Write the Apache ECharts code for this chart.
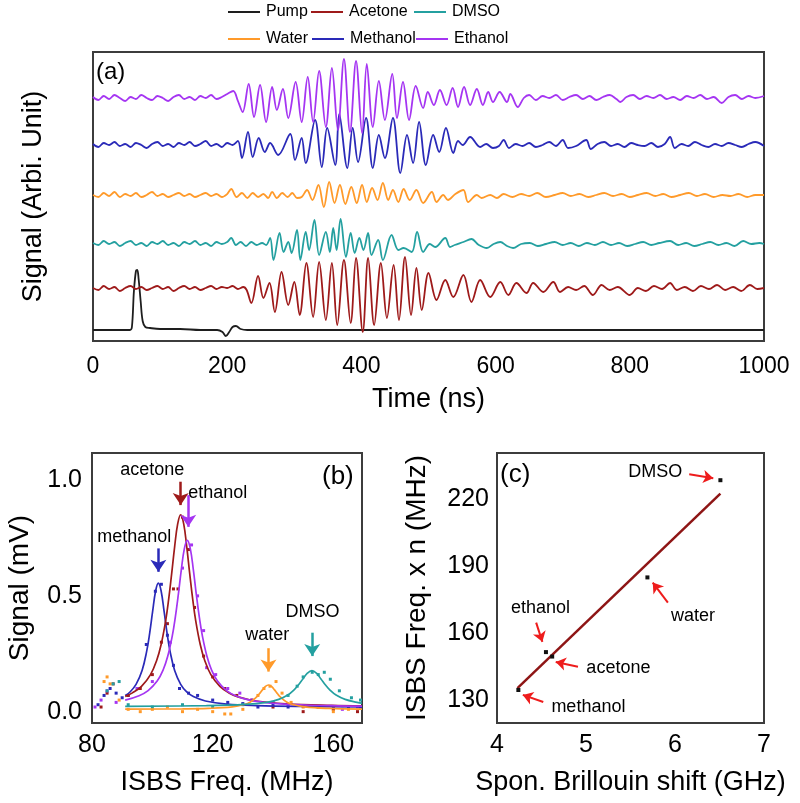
<!DOCTYPE html>
<html><head><meta charset="utf-8">
<script src="https://cdn.jsdelivr.net/npm/echarts@6/dist/echarts.min.js"></script>
<style>html,body{margin:0;padding:0;background:#fff}#c{width:800px;height:803px}</style>
</head><body><div id="c"></div><script>
// ---------- Panel (a): time traces (time ns, arbitrary offset signal) ----------
const timeTicks = [0, 200, 400, 600, 800, 1000];
const pumpTrace = [[0,11],[20,11],[40,11],[55,11],[58,14],[61,50],[64,70],[66,71],[68,62],[71,40],[74,20],[78,14],[85,13],[100,12],[130,12],[160,11],[185,11],[193,9],[198,5],[203,9],[208,14],[213,15],[220,12],[230,11],[300,11],[400,11],[500,11],[600,11],[700,11],[800,11],[900,11],[1000,11]];
const acetoneTrace = [[0,53],[8,51],[16,55],[24,52],[32,54],[40,50],[48,53],[56,55],[64,52],[72,54],[80,51],[88,53],[96,55],[104,52],[112,54],[120,50],[128,53],[136,55],[144,52],[152,54],[160,51],[168,53],[176,55],[184,52],[192,54],[200,53],[208,55],[216,52],[224,54],[229,51],[236,38],[246,65],[254,43],[263,58],[271,29],[281,69],[291,36],[300,59],[308,26],[318,78],[328,24],[337,79],[347,21],[356,78],[364,16],[374,81],[384,18],[392,83],[402,9],[410,83],[419,16],[429,78],[438,23],[448,76],[456,21],[465,84],[474,26],[482,73],[490,31],[500,68],[512,41],[525,61],[537,44],[552,66],[564,39],[577,61],[592,44],[607,59],[619,46],[631,58],[646,48],[656,58],[671,49],[686,59],[696,49],[708,54],[720,51],[732,55],[745,46],[758,56],[770,51],[782,54],[800,46],[812,53],[824,50],[836,55],[848,52],[860,58],[870,51],[882,54],[894,50],[906,55],[918,52],[930,56],[942,51],[954,54],[966,50],[979,56],[990,52],[1000,53]];
const dmsoTrace = [[0,98],[8,96],[16,100],[24,97],[32,99],[40,95],[48,98],[56,100],[64,96],[72,98],[80,95],[88,99],[96,97],[104,100],[112,96],[120,98],[128,95],[136,99],[144,97],[152,100],[160,96],[168,98],[176,95],[184,99],[192,97],[200,99],[206,103],[213,96],[220,99],[228,95],[236,99],[244,96],[252,98],[258,96],[264,103],[269,81],[278,108],[284,89],[291,99],[296,88],[304,111],[309,81],[317,109],[322,91],[330,121],[337,86],[347,109],[353,89],[358,113],[363,91],[369,122],[377,84],[384,108],[390,88],[397,103],[403,91],[410,108],[415,86],[425,101],[432,81],[445,106],[455,91],[463,93],[475,89],[483,109],[492,89],[502,97],[510,94],[525,103],[532,94],[539,96],[552,99],[564,102],[575,96],[587,93],[597,97],[607,99],[617,95],[626,93],[638,97],[651,98],[663,95],[675,97],[688,99],[700,96],[712,98],[724,95],[736,98],[748,96],[760,99],[772,96],[784,98],[796,95],[808,97],[820,99],[832,96],[844,98],[860,100],[872,96],[884,98],[896,95],[908,97],[920,99],[932,96],[944,98],[956,95],[969,100],[981,97],[993,98],[1000,97]];
const waterTrace = [[0,146],[8,144],[16,148],[24,145],[32,149],[40,144],[48,147],[56,145],[64,148],[72,144],[80,146],[88,149],[96,145],[104,147],[112,144],[120,146],[128,148],[136,145],[144,147],[152,144],[160,146],[168,148],[176,145],[184,147],[192,144],[200,147],[206,152],[214,144],[222,148],[230,143],[238,148],[246,144],[254,147],[261,143],[267,149],[274,143],[282,148],[290,144],[297,148],[304,143],[311,144],[319,151],[327,141],[336,156],[344,134],[352,159],[360,138],[368,156],[376,137],[385,154],[393,138],[401,156],[408,139],[416,153],[424,141],[432,158],[440,141],[447,151],[455,139],[463,152],[472,141],[482,151],[492,138],[505,149],[512,139],[522,146],[529,141],[540,147],[552,151],[559,139],[572,146],[579,143],[592,146],[602,143],[612,147],[625,144],[638,147],[650,145],[662,148],[675,144],[688,146],[700,148],[712,145],[725,147],[738,144],[750,146],[762,148],[775,145],[788,147],[800,144],[812,146],[825,148],[838,145],[850,147],[862,144],[875,146],[888,148],[900,145],[912,147],[925,144],[938,146],[950,145],[962,147],[975,144],[987,146],[1000,146]];
const methanolTrace = [[0,197],[8,194],[16,198],[24,196],[32,199],[40,195],[48,197],[56,194],[64,198],[72,196],[80,193],[88,197],[96,199],[104,195],[112,197],[120,194],[128,198],[136,196],[144,199],[152,195],[160,197],[168,200],[176,195],[184,197],[192,194],[200,198],[208,196],[216,200],[222,183],[231,209],[238,184],[247,203],[256,189],[264,198],[276,186],[294,207],[301,181],[311,203],[317,178],[331,221],[341,174],[349,213],[361,176],[367,227],[379,173],[387,213],[395,179],[407,223],[417,173],[426,206],[435,183],[447,223],[458,168],[468,206],[477,178],[486,219],[496,176],[507,206],[516,189],[526,213],[537,188],[544,200],[551,196],[562,204],[577,194],[586,197],[596,193],[605,195],[612,201],[620,193],[630,197],[640,195],[650,198],[660,194],[670,196],[680,199],[690,195],[700,201],[708,193],[720,195],[735,201],[742,192],[752,197],[762,199],[772,195],[782,197],[792,194],[802,198],[812,196],[822,195],[832,198],[842,194],[852,197],[860,204],[867,193],[877,197],[887,195],[897,199],[907,196],[917,194],[927,197],[937,195],[947,198],[957,196],[967,194],[977,197],[987,199],[1000,195]];
const ethanolTrace = [[0,244],[8,241],[16,245],[24,242],[32,246],[40,243],[48,240],[56,244],[64,242],[72,246],[80,243],[88,241],[96,245],[104,243],[112,240],[120,244],[128,246],[136,242],[144,244],[152,241],[160,245],[168,243],[176,246],[184,242],[192,244],[200,247],[209,250],[216,240],[223,229],[232,257],[240,224],[249,256],[258,219],[267,254],[274,231],[283,252],[291,223],[302,259],[311,219],[320,264],[328,219],[337,270],[347,214],[356,273],[365,211],[374,282],[383,209],[392,280],[401,208],[408,277],[417,214],[426,260],[435,221],[446,267],[453,223],[462,259],[471,221],[481,255],[492,233],[499,249],[508,236],[517,251],[527,236],[536,253],[544,234],[553,254],[562,236],[572,252],[581,236],[589,249],[596,239],[606,249],[617,239],[622,247],[633,234],[642,243],[650,246],[660,241],[670,245],[680,243],[690,246],[700,241],[710,244],[720,246],[730,242],[740,245],[750,241],[760,244],[770,246],[780,242],[786,239],[795,244],[805,246],[815,242],[825,245],[835,243],[845,246],[855,242],[865,244],[875,241],[885,245],[895,243],[905,246],[915,242],[925,244],[937,238],[947,244],[957,246],[967,242],[977,245],[987,243],[1000,245]];

// ---------- Panel (b): ISBS spectra (MHz, mV) ----------
const freqTicks = [80, 120, 160];
const signalTicks = [0, 0.5, 1.0];
const methanolFit = [[91,0.07],[92.6,0.085],[94.6,0.118],[96.6,0.178],[98.1,0.259],[99.1,0.337],[100.1,0.433],[101.1,0.522],[102,0.555],[102.9,0.522],[103.9,0.433],[104.9,0.337],[105.9,0.259],[107.4,0.178],[109.4,0.118],[111.4,0.085],[113.6,0.065],[117.6,0.046],[124.6,0.0325],[134.6,0.026],[149.6,0.0225],[169.5,0.021]];
const acetoneFit = [[91,0.066],[93.4,0.081],[96.4,0.109],[99.4,0.16],[101.4,0.22],[102.9,0.289],[104.4,0.391],[105.4,0.484],[106.4,0.595],[107.4,0.713],[108.4,0.811],[109.4,0.85],[110.4,0.811],[111.4,0.713],[112.4,0.595],[113.4,0.484],[114.4,0.391],[115.9,0.289],[117.4,0.22],[119.4,0.16],[122.4,0.109],[125.4,0.081],[128.4,0.064],[134.4,0.046],[144.4,0.034],[159.4,0.027],[169.5,0.025]];
const ethanolFit = [[91,0.05],[95.6,0.069],[98.6,0.091],[101.6,0.132],[103.6,0.181],[105.1,0.239],[106.6,0.326],[107.6,0.406],[108.6,0.504],[109.6,0.612],[110.6,0.703],[111.6,0.74],[112.6,0.703],[113.6,0.612],[114.6,0.504],[115.6,0.406],[116.6,0.326],[118.1,0.239],[119.6,0.181],[121.6,0.132],[124.6,0.091],[127.6,0.069],[131.6,0.052],[137.6,0.039],[146.6,0.031],[161.6,0.025],[169.5,0.024]];
const waterFit = [[91,0.011],[110,0.012],[118.5,0.014],[126.5,0.0205],[130.5,0.031],[132.5,0.042],[134.5,0.0625],[135.5,0.077],[136.5,0.094],[137.5,0.109],[138.5,0.115],[139.5,0.109],[140.5,0.094],[141.5,0.077],[142.5,0.0625],[144.5,0.042],[146.5,0.031],[150.5,0.0205],[158.5,0.014],[169.5,0.011]];
const dmsoFit = [[91,0.023],[117.9,0.0257],[130.9,0.0311],[137.9,0.0404],[141.9,0.053],[144.9,0.0717],[146.9,0.093],[148.4,0.115],[149.9,0.141],[151.4,0.166],[152.9,0.177],[154.4,0.166],[155.9,0.141],[157.4,0.115],[158.9,0.093],[160.9,0.0717],[163.9,0.053],[167.9,0.0404],[169.5,0.037]];
const methanolDots = [[82,0.03],[84,0.07],[86,0.1],[88,0.08],[90,0.06],[92,0.07],[95,0.1],[98,0.29],[101,0.52],[103,0.55],[105,0.33],[107,0.2],[109,0.1],[112,0.08],[115,0.07],[120,0.05],[125,0.04],[130,0.035],[135,0.02],[140,0.03],[145,0.02],[150,0.025],[155,0.02],[160,0.015],[165,0.02],[169,0.02]];
const acetoneDots = [[83,0.02],[85,0.08],[87,0.12],[92,0.07],[96,0.1],[100,0.16],[103,0.3],[105,0.38],[107,0.53],[108.5,0.53],[110,0.84],[112,0.7],[114,0.45],[117,0.24],[120,0.15],[124,0.1],[128,0.07],[133,0.05],[140,0.02],[150,0.0],[160,0.01],[168,0.0]];
const ethanolDots = [[81,0.02],[83,0.05],[85,0.09],[88,0.04],[95,0.1],[100,0.13],[106,0.3],[110,0.62],[113,0.72],[115,0.5],[117,0.35],[118,0.19],[121,0.16],[125,0.1],[129,0.08],[133,0.05],[140,0.04],[145,0.03],[155,0.02],[163,0.01],[168,0.02]];
const waterDots = [[84,0.13],[85,0.15],[86,0.12],[89,0.05],[92,0.01],[96,0.0],[100,0.01],[105,0.02],[110,0.0],[115,0.01],[120,0.0],[124,-0.01],[126,-0.01],[130,0.01],[135,0.07],[137,0.1],[139,0.11],[141,0.13],[143,0.08],[146,0.04],[150,0.02],[155,0.02],[160,0.0],[165,0.01]];
const dmsoDots = [[85,0.09],[87,0.12],[89,0.13],[92,0.03],[100,0.02],[110,0.03],[120,0.02],[130,0.03],[140,0.04],[145,0.07],[148,0.11],[150,0.15],[153,0.17],[155,0.16],[157,0.17],[159,0.14],[162,0.09],[166,0.06],[169,0.05]];
// peak markers: [liquid, freq, from, to]
const peakArrows = [['methanol',102.0,0.705,0.604],['acetone',109.4,0.993,0.892],['ethanol',111.9,0.935,0.798],['water',138.5,0.274,0.173],['DMSO',153.0,0.341,0.240]];
const peakLabels = [['acetone',100.0,1.043],['ethanol',121.7,0.943],['methanol',94.0,0.755],['water',138.1,0.331],['DMSO',153.1,0.432]];

// ---------- Panel (c): ISBS x n vs spontaneous Brillouin shift ----------
const liquids = ['methanol','ethanol','acetone','water','DMSO'];
const brillouinShift = [4.24, 4.55, 4.62, 5.69, 6.51];
const isbsTimesN = [134.5, 151.5, 149.5, 185.0, 228.6];
const fitShift = [4.23, 6.51];
const fitIsbs = [135.3, 222.6];
const shiftTicks = [4, 5, 6, 7];
const isbsTicks = [130, 160, 190, 220];
// annotation: [label, labelX, labelY, arrowFromX, arrowFromY, arrowToX, arrowToY]
const cNotes = [['DMSO',5.777,232.4,6.16,231.3,6.43,229.5],['water',6.201,167.7,5.92,173.7,5.75,182.7],['ethanol',4.489,171.1,4.44,164.7,4.51,156.1],['acetone',5.364,144.5,4.91,144.9,4.66,147.1],['methanol',5.027,127.0,4.52,129.1,4.29,132.3]];

// ---------- style ----------
const FONT = "'Liberation Sans', Arial, sans-serif";
const COLORS = {Pump:'#1e1e1e', Acetone:'#9e1a1a', DMSO:'#24a0a0', Water:'#ff9a2a', Methanol:'#2a2ab8', Ethanol:'#a535f2'};
const legendRows = [['Pump','Acetone','DMSO'],['Water','Methanol','Ethanol']];
const legendLeft = [[228,311,414],[228,312,416]];
const legendTop = [4, 31];

const chart = echarts.init(document.getElementById('c'), null, {renderer:'canvas'});

const legends = [];
legendRows.forEach((row, r) => row.forEach((name, i) => legends.push({
  data:[name], left:legendLeft[r][i], top:legendTop[r], padding:0, icon:'rect', itemWidth:32, itemHeight:2, itemGap:0,
  selectedMode:false, textStyle:{fontFamily:FONT, fontSize:16, color:'#000', padding:[0,0,0,1]}
})));

const traceSeries = [['Pump',pumpTrace],['Acetone',acetoneTrace],['DMSO',dmsoTrace],['Water',waterTrace],['Methanol',methanolTrace],['Ethanol',ethanolTrace]]
  .map(([name,data]) => ({name, type:'line', xAxisIndex:0, yAxisIndex:0, data, symbol:'none', smooth:0.35,
     lineStyle:{color:COLORS[name], width:1.8}, itemStyle:{color:COLORS[name]}, z:3}));

const fitSeries = [['methanol fit',methanolFit,'Methanol'],['acetone fit',acetoneFit,'Acetone'],['ethanol fit',ethanolFit,'Ethanol'],['water fit',waterFit,'Water'],['DMSO fit',dmsoFit,'DMSO']]
  .map(([name,data,c]) => ({name, type:'line', xAxisIndex:1, yAxisIndex:1, data, symbol:'none', smooth:0.4,
     lineStyle:{color:COLORS[c], width:1.7}, z:3}));
const dotSeries = [['methanol pts',methanolDots,'Methanol'],['acetone pts',acetoneDots,'Acetone'],['ethanol pts',ethanolDots,'Ethanol'],['water pts',waterDots,'Water'],['DMSO pts',dmsoDots,'DMSO']]
  .map(([name,data,c]) => ({name, type:'scatter', xAxisIndex:1, yAxisIndex:1, data, symbol:'rect', symbolSize:3,
     itemStyle:{color:COLORS[c], opacity:1}, z:2}));
const arrowColor = {methanol:COLORS.Methanol, acetone:COLORS.Acetone, ethanol:COLORS.Ethanol, water:COLORS.Water, DMSO:COLORS.DMSO};
const bArrowSeries = peakArrows.map(([n,x,y0,y1]) => ({name:'arrow '+n, type:'scatter', xAxisIndex:1, yAxisIndex:1, data:[], silent:true,
  markLine:{silent:true, symbol:['none','arrow'], symbolSize:12, label:{show:false},
    lineStyle:{color:arrowColor[n], width:2.5, type:'solid', opacity:1},
    data:[[{coord:[x,y0]},{coord:[x,y1]}]]}}));
const noteLabel = {show:true, position:'inside', formatter:p => p.data[2], fontFamily:FONT, fontSize:18, color:'#000', opacity:1};
const bLabels = {name:'b labels', type:'scatter', xAxisIndex:1, yAxisIndex:1, symbolSize:1, silent:true,
  itemStyle:{color:'rgba(255,255,255,0)', opacity:1}, label:noteLabel,
  data: peakLabels.map(([n,x,y]) => [x,y,n]), z:5};

const cPoints = {name:'c points', type:'scatter', xAxisIndex:2, yAxisIndex:2, symbol:'rect', symbolSize:4,
  itemStyle:{color:'#111', opacity:1}, data: brillouinShift.map((x,i) => [x, isbsTimesN[i], liquids[i]]), z:4};
const cFit = {name:'c fit', type:'line', xAxisIndex:2, yAxisIndex:2, symbol:'none',
  lineStyle:{color:'#8e1515', width:2.5}, data: fitShift.map((x,i) => [x, fitIsbs[i]]), z:3};
const cArrows = {name:'c arrows', type:'scatter', xAxisIndex:2, yAxisIndex:2, data:[], silent:true,
  markLine:{silent:true, symbol:['none','arrow'], symbolSize:10, label:{show:false},
    lineStyle:{color:'#ee1c1c', width:2, type:'solid', opacity:1},
    data: cNotes.map(n => [{coord:[n[3],n[4]]},{coord:[n[5],n[6]]}])}};
const cLabels = {name:'c labels', type:'scatter', xAxisIndex:2, yAxisIndex:2, symbolSize:1, silent:true,
  itemStyle:{color:'rgba(255,255,255,0)', opacity:1}, label:noteLabel,
  data: cNotes.map(n => [n[1],n[2],n[0]]), z:5};

const axisCommon = {axisLine:{show:false}, axisTick:{show:false}, splitLine:{show:false}};
const option = {
  animation:false,
  backgroundColor:'#fff',
  textStyle:{fontFamily:FONT},
  legend: legends,
  grid:[
    {left:93, top:52, width:671, height:289, show:true, borderColor:'#3c3c3c', borderWidth:2, containLabel:false},
    {left:92, top:453, width:270, height:270, show:true, borderColor:'#3c3c3c', borderWidth:2, containLabel:false},
    {left:497, top:453, width:267, height:270, show:true, borderColor:'#3c3c3c', borderWidth:2, containLabel:false}
  ],
  xAxis:[
    Object.assign({gridIndex:0, type:'value', min:timeTicks[0], max:timeTicks[timeTicks.length-1], interval:200,
      name:'Time (ns)', nameLocation:'middle', nameGap:45, nameTextStyle:{fontSize:27, color:'#000', fontFamily:FONT},
      axisLabel:{fontSize:23, color:'#000', margin:14, fontFamily:FONT, customValues:timeTicks, formatter:v => String(v)}}, axisCommon),
    Object.assign({gridIndex:1, type:'value', min:80, max:169.5, interval:40,
      name:'ISBS Freq. (MHz)', nameLocation:'middle', nameGap:46, nameTextStyle:{fontSize:27, color:'#000', fontFamily:FONT},
      axisLabel:{fontSize:25, color:'#000', margin:10, fontFamily:FONT, customValues:freqTicks}}, axisCommon),
    Object.assign({gridIndex:2, type:'value', min:4, max:7, interval:1,
      name:'Spon. Brillouin shift (GHz)', nameLocation:'middle', nameGap:46, nameTextStyle:{fontSize:27, color:'#000', fontFamily:FONT},
      axisLabel:{fontSize:25, color:'#000', margin:10, fontFamily:FONT, customValues:shiftTicks}}, axisCommon)
  ],
  yAxis:[
    Object.assign({gridIndex:0, type:'value', min:0, max:289,
      name:'Signal (Arbi. Unit)', nameLocation:'middle', nameGap:46, nameRotate:90, nameTextStyle:{fontSize:27, color:'#000', fontFamily:FONT},
      axisLabel:{show:false}}, axisCommon),
    Object.assign({gridIndex:1, type:'value', min:-0.049, max:1.117,
      name:'Signal (mV)', nameLocation:'middle', nameGap:58, nameRotate:90, nameTextStyle:{fontSize:28, color:'#000', fontFamily:FONT},
      axisLabel:{fontSize:25, color:'#000', margin:10, fontFamily:FONT, customValues:signalTicks, formatter:v => v.toFixed(1)}}, axisCommon),
    Object.assign({gridIndex:2, type:'value', min:119.7, max:240.8,
      name:'ISBS Freq. x n (MHz)', nameLocation:'middle', nameGap:66, nameRotate:90, nameTextStyle:{fontSize:28, color:'#000', fontFamily:FONT},
      axisLabel:{fontSize:25, color:'#000', margin:8, fontFamily:FONT, customValues:isbsTicks}}, axisCommon)
  ],
  graphic:[
    {type:'text', left:96, top:60, style:{text:'(a)', font:"24px 'Liberation Sans', Arial", fill:'#000'}},
    {type:'text', left:322, top:464, style:{text:'(b)', font:"26px 'Liberation Sans', Arial", fill:'#000'}},
    {type:'text', left:500, top:462, style:{text:'(c)', font:"26px 'Liberation Sans', Arial", fill:'#000'}}
  ],
  series: [...traceSeries, ...dotSeries, ...fitSeries, ...bArrowSeries, bLabels, cFit, cPoints, cArrows, cLabels]
};
chart.setOption(option);
</script></body></html>
